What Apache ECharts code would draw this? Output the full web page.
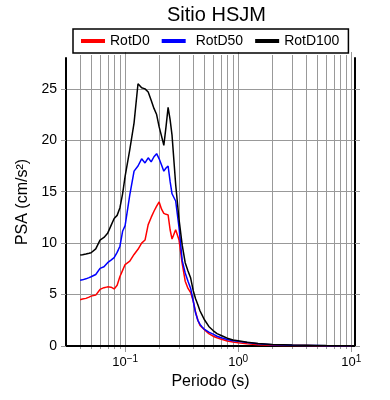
<!DOCTYPE html>
<html>
<head>
<meta charset="utf-8">
<style>
  html, body { margin: 0; padding: 0; background: #fff; }
  #chart { width: 390px; height: 400px; }
</style>
<script src="https://cdn.jsdelivr.net/npm/echarts@6/dist/echarts.min.js"></script>
</head>
<body>
<div id="chart"></div>
<script>
// periods (s) and spectral values (cm/s2)
const periods = [0.04, 0.042, 0.045, 0.048, 0.05, 0.055, 0.06, 0.065, 0.07, 0.075,
  0.08, 0.085, 0.09, 0.095, 0.1, 0.11, 0.12, 0.13, 0.14, 0.15,
  0.16, 0.17, 0.18, 0.19, 0.2, 0.21, 0.22, 0.23, 0.24, 0.25,
  0.26, 0.28, 0.3, 0.32, 0.34, 0.36, 0.38, 0.4, 0.42, 0.44,
  0.46, 0.48, 0.5, 0.55, 0.6, 0.65, 0.7, 0.75, 0.8, 0.9,
  1.0, 1.2, 1.5, 2.0, 2.5, 3, 4, 5, 6, 7, 8, 10];

const rotD0 = [4.5, 4.57, 4.63, 4.75, 4.85, 4.95, 5.5, 5.67, 5.75, 5.72,
  5.55, 5.9, 6.75, 7.35, 7.92, 8.25, 8.9, 9.4, 10.0, 10.3,
  11.8, 12.5, 13.1, 13.6, 14.0, 13.3, 12.9, 12.8, 12.75, 11.3,
  10.4, 11.3, 10.3, 8.0, 6.3, 5.6, 5.2, 4.4, 3.3, 2.5,
  2.0, 1.8, 1.6, 1.2, 0.95, 0.8, 0.68, 0.58, 0.48, 0.38,
  0.32, 0.22, 0.13, 0.08, 0.06, 0.05, 0.04, 0.03, 0.03, 0.02, 0.02, 0.015];

const rotD50 = [6.4, 6.43, 6.53, 6.65, 6.73, 6.95, 7.55, 7.7, 8.1, 8.35,
  8.6, 9.1, 9.7, 11.15, 11.7, 14.7, 17.0, 17.5, 18.2, 17.8,
  18.3, 17.9, 18.4, 18.7, 18.2, 17.6, 17.0, 17.3, 17.5, 16.0,
  14.8, 14.1, 11.5, 8.3, 7.1, 6.3, 5.6, 4.4, 3.2, 2.5,
  2.1, 1.85, 1.65, 1.35, 1.15, 0.95, 0.83, 0.72, 0.63, 0.52,
  0.45, 0.35, 0.23, 0.13, 0.1, 0.07, 0.05, 0.04, 0.03, 0.03, 0.025, 0.02];

const rotD100 = [8.85, 8.88, 8.95, 9.02, 9.07, 9.45, 10.3, 10.55, 10.95, 11.7,
  12.4, 12.7, 13.45, 14.8, 16.5, 19.1, 21.7, 25.5, 25.1, 25.0,
  24.7, 23.9, 23.1, 22.5, 21.3, 20.4, 19.5, 21.3, 23.2, 22.0,
  20.5, 15.7, 12.3, 9.8, 8.1, 7.3, 6.6, 5.4, 4.6, 4.0,
  3.4, 3.0, 2.6, 1.9, 1.5, 1.2, 1.05, 0.9, 0.76, 0.58,
  0.5, 0.36, 0.25, 0.15, 0.12, 0.09, 0.07, 0.05, 0.04, 0.035, 0.03, 0.02];

// log grid lines (vertical) and the decades among them
const periodGrid = [0.04, 0.05, 0.06, 0.07, 0.08, 0.09,
  0.1, 0.2, 0.3, 0.4, 0.5, 0.6, 0.7, 0.8, 0.9,
  1, 2, 3, 4, 5, 6, 7, 8, 9, 10];
const decades = [0.1, 1, 10];
const psaTicks = [0, 5, 10, 15, 20, 25];

const chart = echarts.init(document.getElementById('chart'));

const pair = (vals) => periods.map((p, i) => [p, vals[i]]);

const option = {
  animation: false,
  textStyle: { fontFamily: 'Liberation Sans, Arial, sans-serif', color: '#000' },
  title: {
    text: 'Sitio HSJM',
    left: 162,
    top: 0,
    textStyle: { fontSize: 20, fontWeight: 'normal', color: '#000' }
  },
  legend: {
    data: [
      { name: 'RotD0' },
      { name: 'RotD50', textStyle: { padding: [0, 0, 0, 5] } },
      { name: 'RotD100' }
    ],
    left: 73,
    top: 29,
    padding: [5, 9, 5, 8],
    itemGap: 12,
    itemWidth: 24,
    itemHeight: 4,
    icon: 'rect',
    borderColor: '#000',
    borderWidth: 1.5,
    borderRadius: 0,
    textStyle: { fontSize: 14, color: '#000' }
  },
  grid: { left: 66, right: 35, top: 58, bottom: 54 },
  xAxis: [
    {
      type: 'log',
      logBase: 10,
      min: 0.03,
      max: 10.8,
      z: 2,
      name: 'Periodo (s)',
      nameLocation: 'middle',
      nameGap: 26,
      nameTextStyle: { fontSize: 16, color: '#000' },
      axisLine: { lineStyle: { color: '#000', width: 2 } },
      axisTick: { show: false },
      splitLine: { show: false },
      axisLabel: {
        showMinLabel: false,
        showMaxLabel: false,
        margin: 8,
        fontSize: 13,
        color: '#000',
        formatter: (v) => {
          const e = Math.round(Math.log10(v));
          return '10{sup|' + (e < 0 ? '\u2212' + (-e) : e) + '}';
        },
        rich: { sup: { fontSize: 10, padding: [0, 0, 7, 0], color: '#000' } }
      }
    },
    {
      type: 'log',
      logBase: 10,
      min: 0.03,
      max: 10.8,
      position: 'top',
      z: 2,
      axisLine: { lineStyle: { color: '#000', width: 2 } },
      axisTick: { show: false },
      axisLabel: { show: false },
      splitLine: { show: false }
    }
  ],
  yAxis: [
    {
      type: 'value',
      min: 0,
      max: 28,
      interval: 5,
      z: 2,
      name: 'PSA (cm/s\u00b2)',
      nameLocation: 'middle',
      nameGap: 30,
      nameTextStyle: { fontSize: 16, color: '#000' },
      axisLine: { show: true, lineStyle: { color: '#000', width: 2 } },
      axisTick: { show: true, length: 5, customValues: psaTicks, lineStyle: { color: '#999' } },
      axisLabel: { fontSize: 14, color: '#000', margin: 9, customValues: psaTicks },
      splitLine: { show: true, lineStyle: { color: '#999', width: 1 } }
    },
    {
      type: 'value',
      min: 0,
      max: 28,
      interval: 5,
      position: 'right',
      z: 2,
      axisLine: { show: true, lineStyle: { color: '#000', width: 2 } },
      axisTick: { show: true, length: 5, customValues: psaTicks, lineStyle: { color: '#999' } },
      axisLabel: { show: false },
      splitLine: { show: false }
    }
  ],
  series: [
    {
      type: 'custom',
      z: 1,
      silent: true,
      clip: false,
      data: periodGrid.map((p) => [p, 0, decades.includes(p) ? 1 : 0]),
      renderItem: (params, api) => {
        const cs = params.coordSys;
        const x = Math.round(api.coord([api.value(0), 0])[0]) + 0.5;
        const ext = api.value(2) === 1 ? 6 : 3;
        return {
          type: 'line',
          shape: { x1: x, y1: cs.y - ext, x2: x, y2: cs.y + cs.height + ext },
          style: { stroke: '#999', lineWidth: 1 }
        };
      }
    },
    {
      name: 'RotD0',
      type: 'line',
      z: 3,
      symbol: 'none',
      lineStyle: { color: '#ff0000', width: 1.5 },
      itemStyle: { color: '#ff0000' },
      data: pair(rotD0)
    },
    {
      name: 'RotD50',
      type: 'line',
      z: 3,
      symbol: 'none',
      lineStyle: { color: '#0000ff', width: 1.5 },
      itemStyle: { color: '#0000ff' },
      data: pair(rotD50)
    },
    {
      name: 'RotD100',
      type: 'line',
      z: 3,
      symbol: 'none',
      lineStyle: { color: '#000000', width: 1.5 },
      itemStyle: { color: '#000000' },
      data: pair(rotD100)
    }
  ]
};

chart.setOption(option);
</script>
</body>
</html>
